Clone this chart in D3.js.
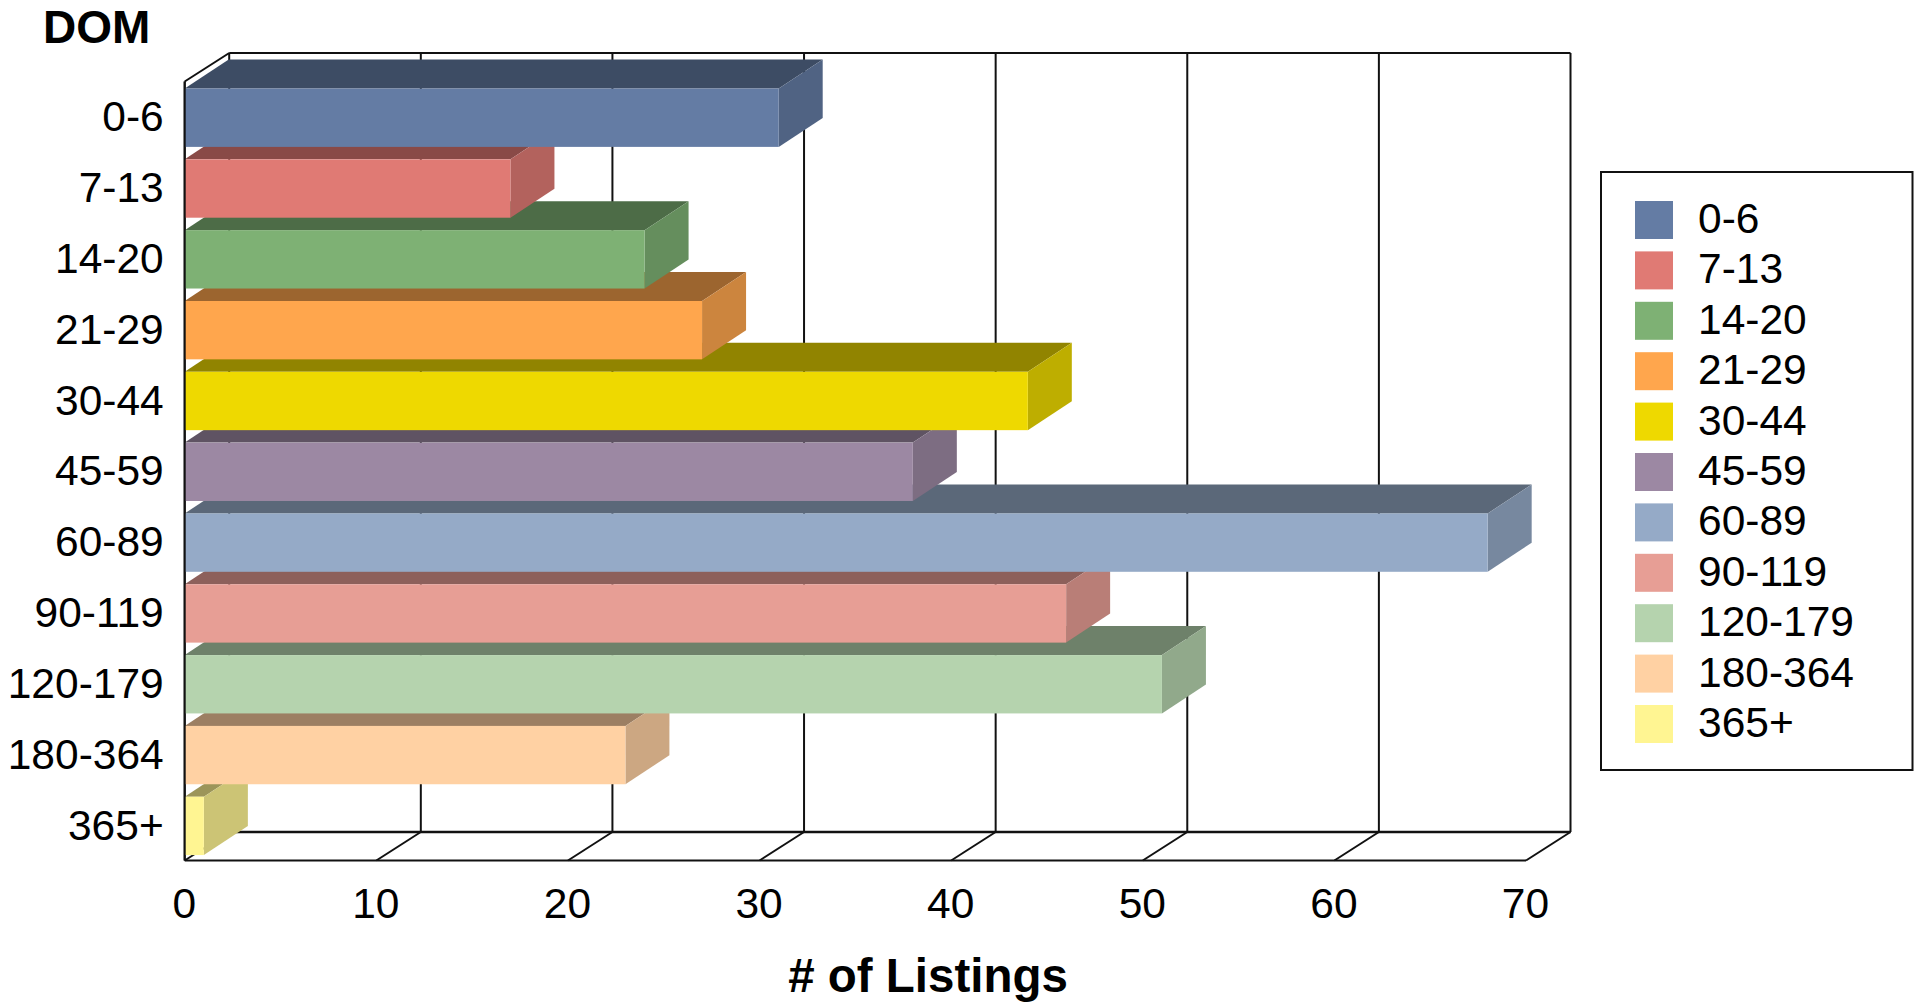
<!DOCTYPE html>
<html>
<head>
<meta charset="utf-8">
<script src="https://cdn.jsdelivr.net/npm/d3@7"></script>
<style>
  body { margin: 0; background: #fff; }
  svg { display: block; }
  text { font-family: "Liberation Sans", Arial, sans-serif; fill: #000; }
</style>
</head>
<body>
<svg id="chart" width="1918" height="1002"></svg>
<script>
let categories = ['0-6', '7-13', '14-20', '21-29', '30-44', '45-59', '60-89', '90-119', '120-179', '180-364', '365+'];
let listings = [31, 17, 24, 27, 44, 38, 68, 46, 51, 23, 1];
let xTicks = [0, 10, 20, 30, 40, 50, 60, 70];
let palette = ['#647ca4', '#e07a74', '#7eb174', '#ffa64d', '#eed900', '#9c88a3', '#95aac7', '#e79e95', '#b5d3ae', '#ffd1a3', '#fff592'];

let svg = d3.select('#chart');

// front plane of the plot box, and how far the depth goes back
let plotLeft = 184.7, plotRight = 1526, plotTop = 81.5, plotBottom = 860.5;
let depthX = 44.5, depthY = -28.5;
let barDepthX = 44, barDepthY = -29;

let x = d3.scaleLinear().domain([0, 70]).range([plotLeft, plotRight]);
let y = d3.scaleBand().domain(categories).range([plotTop + 0.8, plotBottom + 0.8]).paddingInner(0.176).paddingOuter(0.088);
let color = d3.scaleOrdinal().domain(categories).range(palette);

let shade = (c, k) => {
    let rgb = d3.rgb(c);
    return d3.rgb(rgb.r * k, rgb.g * k, rgb.b * k).formatHex();
};

let addLine = (g, x1, y1, x2, y2, width) => {
    g.append('line')
        .attr('x1', x1).attr('y1', y1)
        .attr('x2', x2).attr('y2', y2)
        .attr('stroke', '#111')
        .attr('stroke-width', width);
};

// walls and floor
let walls = svg.append('g');
xTicks.forEach((t) => {
    addLine(walls, x(t) + depthX, plotTop + depthY, x(t) + depthX, plotBottom + depthY, 2);
    addLine(walls, x(t), plotBottom, x(t) + depthX, plotBottom + depthY, 2);
});
addLine(walls, plotLeft + depthX, plotTop + depthY, plotRight + depthX, plotTop + depthY, 2);
addLine(walls, plotLeft + depthX, plotBottom + depthY, plotRight + depthX, plotBottom + depthY, 2.5);
addLine(walls, plotLeft, plotBottom, plotRight, plotBottom, 2);
addLine(walls, plotLeft, plotTop, plotLeft + depthX, plotTop + depthY, 2);
addLine(walls, plotLeft, plotTop, plotLeft, plotBottom, 2);

// bars, bottom one first so the upper bars cover the top faces below them
let barData = categories.map((c, i) => ({ category: c, value: listings[i] })).reverse();
let bars = svg.append('g').selectAll('g')
    .data(barData)
    .enter()
    .append('g');

bars.append('polygon')
    .attr('fill', (d) => shade(color(d.category), 0.61))
    .attr('points', (d) => {
        let x0 = x(0), x1 = x(d.value), y0 = y(d.category);
        return [[x0, y0], [x1, y0], [x1 + barDepthX, y0 + barDepthY], [x0 + barDepthX, y0 + barDepthY]].join(' ');
    });

bars.append('polygon')
    .attr('fill', (d) => shade(color(d.category), 0.8))
    .attr('points', (d) => {
        let x1 = x(d.value), y0 = y(d.category), y1 = y0 + y.bandwidth();
        return [[x1, y0], [x1 + barDepthX, y0 + barDepthY], [x1 + barDepthX, y1 + barDepthY], [x1, y1]].join(' ');
    });

bars.append('rect')
    .attr('x', x(0))
    .attr('y', (d) => y(d.category))
    .attr('width', (d) => x(d.value) - x(0))
    .attr('height', y.bandwidth())
    .attr('fill', (d) => color(d.category));

addLine(svg, plotLeft, plotTop, plotLeft, plotBottom, 2);

// axes
let xAxis = svg.append('g')
    .attr('transform', `translate(-1, ${plotBottom + 27})`)
    .call(d3.axisBottom(x).tickValues(xTicks).tickSize(0).tickPadding(0));
xAxis.select('.domain').remove();
xAxis.selectAll('text').style('font-size', '42.5px').style('font-family', '"Liberation Sans"').attr('fill', '#000');

let yAxis = svg.append('g')
    .attr('transform', `translate(${plotLeft - 21}, 0)`)
    .call(d3.axisLeft(y).tickSize(0).tickPadding(0));
yAxis.select('.domain').remove();
yAxis.selectAll('text').style('font-size', '42.5px').style('font-family', '"Liberation Sans"').attr('fill', '#000');

svg.append('text')
    .attr('x', 43).attr('y', 43)
    .attr('font-size', 46).attr('font-weight', 'bold')
    .text('DOM');

svg.append('text')
    .attr('x', 928).attr('y', 992)
    .attr('text-anchor', 'middle')
    .attr('font-size', 47.5).attr('font-weight', 'bold')
    .text('# of Listings');

// legend
let legendY = d3.scalePoint().domain(categories).range([220, 724]);

svg.append('rect')
    .attr('x', 1601).attr('y', 172)
    .attr('width', 311.5).attr('height', 598)
    .attr('fill', '#fff')
    .attr('stroke', '#111')
    .attr('stroke-width', 2);

let legend = svg.append('g').selectAll('g')
    .data(categories)
    .enter()
    .append('g');

legend.append('rect')
    .attr('x', 1635)
    .attr('y', (d) => legendY(d) - 19)
    .attr('width', 38)
    .attr('height', 38)
    .attr('fill', (d) => color(d));

legend.append('text')
    .attr('x', 1698)
    .attr('y', (d) => legendY(d) - 1.5)
    .attr('dominant-baseline', 'central')
    .attr('font-size', 42.5)
    .text((d) => d);
</script>
</body>
</html>
